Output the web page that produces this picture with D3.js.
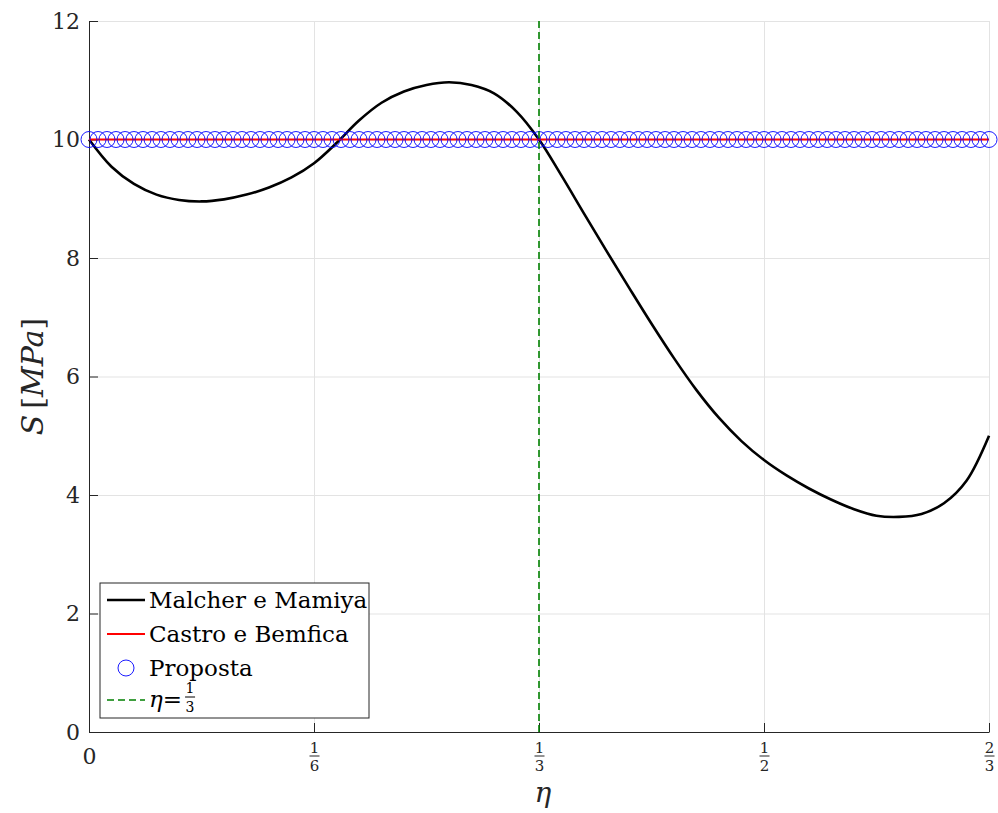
<!DOCTYPE html>
<html>
<head>
<meta charset="utf-8">
<script src="https://cdn.jsdelivr.net/npm/d3@7"></script>
<style>
  html, body { margin: 0; padding: 0; background: #fff; }
  svg { display: block; font-family: "DejaVu Serif", serif; }
</style>
</head>
<body>
<svg id="chart" width="998" height="813"></svg>
<script>
// Malcher e Mamiya criterion: S [MPa] versus eta, sampled every 1/60
const etaMM = [
  0.0000, 0.0167, 0.0333, 0.0500, 0.0667, 0.0833, 0.1000, 0.1167, 0.1333, 0.1500,
  0.1667, 0.1833, 0.2000, 0.2167, 0.2333, 0.2500, 0.2667, 0.2833, 0.3000, 0.3167,
  0.3333, 0.3500, 0.3667, 0.3833, 0.4000, 0.4167, 0.4333, 0.4500, 0.4667, 0.4833,
  0.5000, 0.5167, 0.5333, 0.5500, 0.5667, 0.5833, 0.6000, 0.6167, 0.6333, 0.6500,
  0.6667
];
const sMM = [
  10.00, 9.54, 9.25, 9.07, 8.98, 8.955, 8.99, 9.07, 9.19, 9.36,
  9.60, 9.94, 10.32, 10.62, 10.81, 10.92, 10.965, 10.92, 10.78, 10.47,
  10.00, 9.39, 8.75, 8.12, 7.50, 6.89, 6.31, 5.77, 5.30, 4.91,
  4.59, 4.33, 4.11, 3.92, 3.76, 3.65, 3.63, 3.68, 3.86, 4.24,
  5.00
];

// Castro e Bemfica criterion (constant)
const etaCB = [0, 0.6667];
const sCB   = [10, 10];

// Proposed criterion, sampled at 101 points
const etaProposta = [
  0.0000, 0.0067, 0.0133, 0.0200, 0.0267, 0.0333, 0.0400, 0.0467, 0.0533, 0.0600,
  0.0667, 0.0733, 0.0800, 0.0867, 0.0933, 0.1000, 0.1067, 0.1133, 0.1200, 0.1267,
  0.1333, 0.1400, 0.1467, 0.1533, 0.1600, 0.1667, 0.1733, 0.1800, 0.1867, 0.1933,
  0.2000, 0.2067, 0.2133, 0.2200, 0.2267, 0.2333, 0.2400, 0.2467, 0.2533, 0.2600,
  0.2667, 0.2733, 0.2800, 0.2867, 0.2933, 0.3000, 0.3067, 0.3133, 0.3200, 0.3267,
  0.3333, 0.3400, 0.3467, 0.3533, 0.3600, 0.3667, 0.3733, 0.3800, 0.3867, 0.3933,
  0.4000, 0.4067, 0.4133, 0.4200, 0.4267, 0.4333, 0.4400, 0.4467, 0.4533, 0.4600,
  0.4667, 0.4733, 0.4800, 0.4867, 0.4933, 0.5000, 0.5067, 0.5133, 0.5200, 0.5267,
  0.5333, 0.5400, 0.5467, 0.5533, 0.5600, 0.5667, 0.5733, 0.5800, 0.5867, 0.5933,
  0.6000, 0.6067, 0.6133, 0.6200, 0.6267, 0.6333, 0.6400, 0.6467, 0.6533, 0.6600,
  0.6667
];
const sProposta = [
  10, 10, 10, 10, 10, 10, 10, 10, 10, 10,
  10, 10, 10, 10, 10, 10, 10, 10, 10, 10,
  10, 10, 10, 10, 10, 10, 10, 10, 10, 10,
  10, 10, 10, 10, 10, 10, 10, 10, 10, 10,
  10, 10, 10, 10, 10, 10, 10, 10, 10, 10,
  10, 10, 10, 10, 10, 10, 10, 10, 10, 10,
  10, 10, 10, 10, 10, 10, 10, 10, 10, 10,
  10, 10, 10, 10, 10, 10, 10, 10, 10, 10,
  10, 10, 10, 10, 10, 10, 10, 10, 10, 10,
  10, 10, 10, 10, 10, 10, 10, 10, 10, 10,
  10
];

// reference line eta = 1/3
const etaRef = 1 / 3;

// axis ticks
const xTicks = [0, 1 / 6, 1 / 3, 1 / 2, 2 / 3];
const xTickLabels = [["0"], ["1", "6"], ["1", "3"], ["1", "2"], ["2", "3"]];
const yTicks = [0, 2, 4, 6, 8, 10, 12];

const legendLabels = ["Malcher e Mamiya", "Castro e Bemfica", "Proposta"];

const FONT = "DejaVu Serif, serif";
const margin = { left: 89, top: 21, right: 9, bottom: 81 };
const W = 998, H = 813;
const iw = W - margin.left - margin.right;
const ih = H - margin.top - margin.bottom;

const svg = d3.select("#chart");
const g = svg.append("g").attr("transform", `translate(${margin.left},${margin.top})`);

const x = d3.scaleLinear().domain([0, 2 / 3]).range([0, iw]);
const y = d3.scaleLinear().domain([0, 12]).range([ih, 0]);

// grid
g.append("g")
  .attr("transform", `translate(0,${ih})`)
  .call(d3.axisBottom(x).tickValues(xTicks).tickSize(-ih).tickFormat(""))
  .call(s => s.select(".domain").remove())
  .call(s => s.selectAll("line").attr("stroke", "#e3e3e3").attr("stroke-width", 1));
g.append("g")
  .call(d3.axisLeft(y).tickValues(yTicks).tickSize(-iw).tickFormat(""))
  .call(s => s.select(".domain").remove())
  .call(s => s.selectAll("line").attr("stroke", "#e3e3e3").attr("stroke-width", 1));

// axes (ticks pointing inward)
const axisColor = "#262626";
const yAxis = g.append("g")
  .call(d3.axisLeft(y).tickValues(yTicks).tickSizeInner(-9).tickSizeOuter(0).tickPadding(9).tickFormat(d3.format("d")))
  .attr("font-family", FONT);
yAxis.select(".domain").attr("stroke", axisColor);
yAxis.selectAll(".tick line").attr("stroke", axisColor);
yAxis.selectAll(".tick text")
  .attr("font-size", 22).attr("fill", axisColor).attr("font-family", FONT);

const xAxis = g.append("g").attr("transform", `translate(0,${ih})`)
  .call(d3.axisBottom(x).tickValues(xTicks).tickSizeInner(-9).tickSizeOuter(0).tickFormat(""))
  .attr("font-family", FONT);
xAxis.select(".domain").attr("stroke", axisColor);
xAxis.selectAll(".tick line").attr("stroke", axisColor);
xAxis.selectAll(".tick").each(function (d, i) {
  const t = d3.select(this);
  const lab = xTickLabels[i];
  if (lab.length === 1) {
    t.append("text").attr("y", 32).attr("text-anchor", "middle")
      .attr("font-family", FONT).attr("font-size", 22).attr("fill", axisColor).text(lab[0]);
  } else {
    t.append("text").attr("y", 21).attr("text-anchor", "middle")
      .attr("font-family", FONT).attr("font-size", 15).attr("fill", axisColor).text(lab[0]);
    t.append("line").attr("x1", -5).attr("x2", 5).attr("y1", 24).attr("y2", 24)
      .attr("stroke", axisColor).attr("stroke-width", 1);
    t.append("text").attr("y", 39).attr("text-anchor", "middle")
      .attr("font-family", FONT).attr("font-size", 15).attr("fill", axisColor).text(lab[1]);
  }
});

// axis labels
svg.append("text")
  .attr("x", margin.left + iw / 2 + 4).attr("y", 802)
  .attr("text-anchor", "middle").attr("font-size", 28).attr("font-style", "italic")
  .attr("fill", axisColor).text("η");

const yl = svg.append("text")
  .attr("transform", `translate(43,${margin.top + ih / 2}) rotate(-90)`)
  .attr("text-anchor", "middle").attr("font-size", 30).attr("fill", axisColor);
yl.append("tspan").attr("font-style", "italic").text("S");
yl.append("tspan").text("\u2009[");
yl.append("tspan").attr("font-style", "italic").text("MPa");
yl.append("tspan").text("]");

// series
g.append("path")
  .datum(d3.zip(etaMM, sMM))
  .attr("fill", "none").attr("stroke", "#000").attr("stroke-width", 2.6)
  .attr("stroke-linejoin", "round")
  .attr("d", d3.line().x(d => x(d[0])).y(d => y(d[1])).curve(d3.curveCatmullRom.alpha(0.5)));

g.append("path")
  .datum(d3.zip(etaCB, sCB))
  .attr("fill", "none").attr("stroke", "#ff0000").attr("stroke-width", 2)
  .attr("d", d3.line().x(d => x(d[0])).y(d => y(d[1])));

g.append("g").selectAll("circle")
  .data(d3.zip(etaProposta, sProposta))
  .join("circle")
  .attr("cx", d => x(d[0])).attr("cy", d => y(d[1])).attr("r", 8)
  .attr("fill", "none").attr("stroke", "#0000ff").attr("stroke-width", 0.9);

g.append("line")
  .attr("x1", x(etaRef)).attr("x2", x(etaRef))
  .attr("y1", y(0)).attr("y2", y(12))
  .attr("stroke", "#008000").attr("stroke-width", 1.6)
  .attr("stroke-dasharray", "7,4");

// legend
const lg = svg.append("g").attr("transform", "translate(100,583)");
lg.append("rect").attr("x", 0).attr("y", 0).attr("width", 269).attr("height", 135)
  .attr("fill", "#fff").attr("stroke", axisColor).attr("stroke-width", 1);

const rowY = [17, 51, 85, 117];
const sx1 = 7, sx2 = 45, tx = 49;
lg.append("line").attr("x1", sx1).attr("x2", sx2).attr("y1", rowY[0]).attr("y2", rowY[0])
  .attr("stroke", "#000").attr("stroke-width", 2.6);
lg.append("line").attr("x1", sx1).attr("x2", sx2).attr("y1", rowY[1]).attr("y2", rowY[1])
  .attr("stroke", "#ff0000").attr("stroke-width", 2);
lg.append("circle").attr("cx", (sx1 + sx2) / 2).attr("cy", rowY[2]).attr("r", 8)
  .attr("fill", "none").attr("stroke", "#0000ff").attr("stroke-width", 0.9);
lg.append("line").attr("x1", sx1).attr("x2", sx2).attr("y1", rowY[3]).attr("y2", rowY[3])
  .attr("stroke", "#008000").attr("stroke-width", 1.6).attr("stroke-dasharray", "7,4");

legendLabels.forEach((t, i) => {
  lg.append("text").attr("x", tx).attr("y", rowY[i] + 8)
    .attr("font-size", 23).attr("fill", "#000").text(t);
});
const eq = lg.append("text").attr("x", tx).attr("y", rowY[3] + 7)
  .attr("font-size", 23).attr("fill", "#000");
eq.append("tspan").attr("font-style", "italic").text("η");
eq.append("tspan").text("=");
const fx = tx + eq.node().getComputedTextLength() + 8;
lg.append("text").attr("x", fx).attr("y", 110).attr("text-anchor", "middle")
  .attr("font-size", 14).text("1");
lg.append("line").attr("x1", fx - 5).attr("x2", fx + 5).attr("y1", 114).attr("y2", 114)
  .attr("stroke", "#000").attr("stroke-width", 1);
lg.append("text").attr("x", fx).attr("y", 129).attr("text-anchor", "middle")
  .attr("font-size", 14).text("3");
</script>
</body>
</html>
